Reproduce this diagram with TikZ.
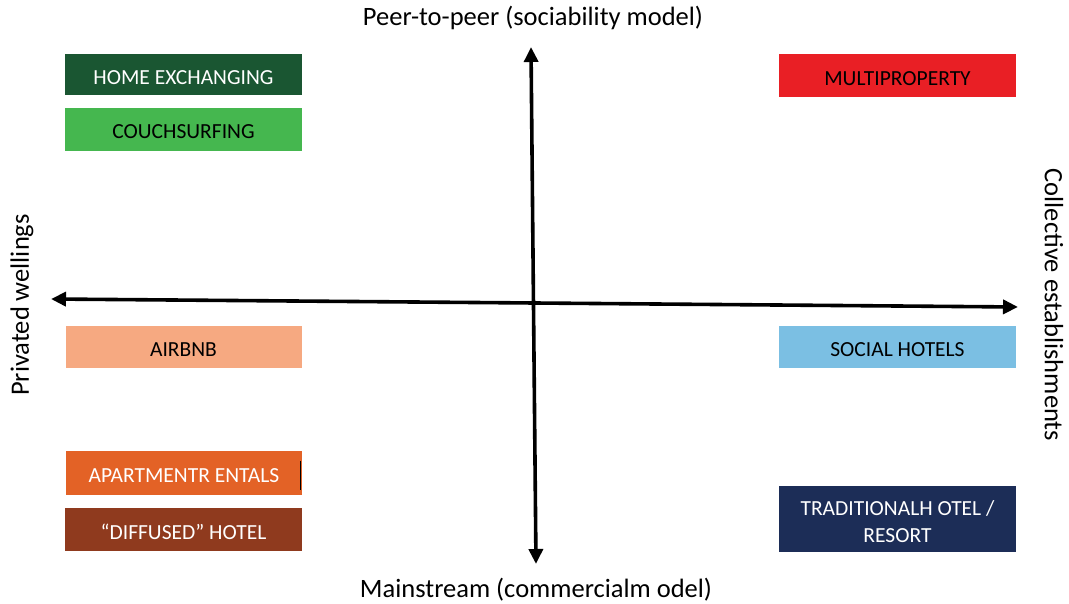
\documentclass[tikz,border=0pt]{standalone}
\usepackage{fontspec}
\setmainfont{Carlito}
\usepackage{xcolor}
\usetikzlibrary{arrows.meta,positioning}

\definecolor{homegreen}{HTML}{1A5632}
\definecolor{couchgreen}{HTML}{45B74F}
\definecolor{multired}{HTML}{E91F25}
\definecolor{airsalmon}{HTML}{F6A981}
\definecolor{socialblue}{HTML}{7BBFE3}
\definecolor{aptorange}{HTML}{E36226}
\definecolor{diffbrown}{HTML}{8F3A1E}
\definecolor{tradnavy}{HTML}{1C2D57}

\begin{document}
\begin{tikzpicture}[x=1pt,y=-1pt,
  box/.style={minimum width=237pt,minimum height=42pt,inner sep=0pt,align=center,
    font=\fontsize{21.5}{27}\selectfont},
  axislabel/.style={font=\fontsize{26.5}{31}\selectfont,inner sep=0pt},
  axis/.style={line width=3.6pt,{Triangle[length=15pt,width=14pt]}-{Triangle[length=15pt,width=14pt]}}]
\useasboundingbox (0,0) rectangle (1069,604);

% left column
\fill[homegreen] (65,54) rectangle (302,95);
\node[box,text=white] (home) at (183.5,77.5) {HOME EXCHANGING};
\fill[couchgreen] (65,108) rectangle (302,151);
\node[box] (couch) at (183.5,132) {COUCHSURFING};
\fill[airsalmon] (66,326) rectangle (302,368);
\node[box] (airbnb) at (183.5,350) {AIRBNB};
\fill[aptorange] (66,451) rectangle (302,495);
\node[box,text=white] (apt) at (184,475.5) {APARTMENTR ENTALS};
\fill[diffbrown] (65,508) rectangle (302,551);
\node[box,text=white] (diff) at (183.5,532) {``DIFFUSED'' HOTEL};
\draw[line width=1pt] (300,461) -- (300,490);

% right column
\fill[multired] (779,54) rectangle (1016,97);
\node[box] (multi) at (897.5,78.5) {MULTIPROPERTY};
\fill[socialblue] (779,326) rectangle (1016,368);
\node[box] (social) at (897.5,350) {SOCIAL HOTELS};
\fill[tradnavy] (779,486) rectangle (1016,552);
\node[box,text=white] (trad) at (897.5,522) {TRADITIONALH OTEL /\\RESORT};

% axes
\coordinate (top) at (531,47);
\coordinate (bottom) at (536,564);
\coordinate (left) at (51,299);
\coordinate (right) at (1018,307);
\draw[axis] (top) -- (bottom);
\draw[axis] (left) -- (right);

\node[axislabel] (peer) at (533,18) {Peer-to-peer (sociability model)};
\node[axislabel] (main) at (536,590) {Mainstream (commercialm odel)};
\node[axislabel,rotate=90] (priv) at (22,305) {Privated wellings};
\node[axislabel,rotate=-90] (coll) at (1054,305) {Collective establishments};
\end{tikzpicture}
\end{document}
